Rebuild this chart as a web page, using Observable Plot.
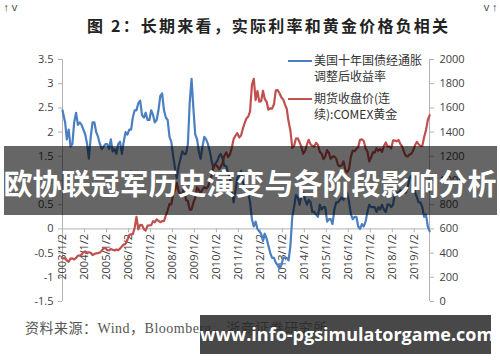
<!DOCTYPE html>
<html>
<head>
<meta charset="utf-8">
<script src="https://cdn.jsdelivr.net/npm/d3@7"></script>
<script src="https://cdn.jsdelivr.net/npm/@observablehq/plot@0.6"></script>
<style>
  html, body { margin: 0; padding: 0; background: #fff; }
  #wrap { position: relative; width: 500px; height: 362px; overflow: hidden; background: #fff; }
  #title { position: absolute; left: 87px; top: 13px; white-space: nowrap;
    font-family: "Noto Sans CJK SC", sans-serif; font-weight: 700; font-size: 16px; letter-spacing: 2.2px; color: #222; }
  #chart { position: absolute; left: 0; top: 0; }
  .leg { position: absolute; font-family: "Noto Sans CJK SC", sans-serif; font-size: 12px; line-height: 16px; color: #333; white-space: nowrap; }
  .legline { position: absolute; height: 2px; width: 24px; }
  #source { position: absolute; left: 25px; top: 317px; white-space: nowrap;
    font-family: "Liberation Serif", "Noto Sans CJK SC", serif; font-size: 14px; color: #555; letter-spacing: 0.5px; }
  #banner { position: absolute; left: 4px; top: 146px; width: 493px; height: 69px; background: rgba(0,0,0,0.6); }
  #bannerText { position: absolute; left: 0; top: 162px; width: 500px; text-align: center; white-space: nowrap;
    font-family: "Noto Sans CJK SC", sans-serif; font-weight: 700; font-size: 29px; line-height: 40px; color: #fff; }
  #wm { position: absolute; left: 200px; top: 315px; width: 291px; height: 39px; background: rgba(40,40,40,0.85); }
  #wmText { position: absolute; left: 200px; top: 315px; width: 291px; height: 39px; line-height: 39px; text-align: center; white-space: nowrap;
    font-family: "Open Sans", "Noto Sans", sans-serif; font-weight: 700; font-size: 18px; color: #fff; }
</style>
</head>
<body>
<div id="wrap">
  <div id="title">图 2：长期来看，实际利率和黄金价格负相关</div>
  <div id="chart"></div>
  <div class="legline" style="left:288px; top:60px; background:#4a7fc1;"></div>
  <div class="leg" style="left:314px; top:52px;">美国十年国债经通胀<br>调整后收益率</div>
  <div class="legline" style="left:288px; top:98px; background:#c0504d;"></div>
  <div class="leg" style="left:314px; top:90px;">期货收盘价(连<br>续):COMEX黄金</div>
  <div id="source">资料来源：Wind，Bloomberg，浙商证券研究所</div>
  <div id="banner"></div>
  <div id="bannerText">欧协联冠军历史演变与各阶段影响分析</div>
  <div id="wm"></div>
  <div id="wmText">www.info-pgsimulatorgame.com</div>
</div>
<script>
// ---- data (monthly readings, Jan 2003 – Sep 2019) ----
const startYear = 2003;
const tipsYield = [
  // 2003
  2.45, 2.2, 1.85, 2.05, 1.7, 1.75, 2.2, 2.4, 2.15, 2.2, 2.15, 2.05,
  // 2004
  1.95, 1.75, 1.45, 1.9, 2.2, 2.2, 2.0, 1.9, 1.75, 1.65, 1.7, 1.75,
  // 2005
  1.75, 1.65, 1.85, 1.6, 1.65, 1.55, 1.75, 1.8, 1.55, 1.8, 2.0, 1.95,
  // 2006
  2.05, 2.05, 2.3, 2.45, 2.45, 2.6, 2.65, 2.35, 2.3, 2.4, 2.25, 2.25,
  // 2007
  2.45, 2.35, 2.2, 2.25, 2.45, 2.75, 2.8, 2.45, 2.3, 2.25, 1.9, 1.8,
  // 2008
  1.5, 1.25, 1.05, 1.3, 1.45, 1.6, 1.55, 1.55, 1.75, 2.6, 3.1, 2.5,
  // 2009
  1.95, 1.85, 1.6, 1.45, 1.7, 1.9, 1.85, 1.75, 1.6, 1.4, 1.25, 1.35,
  // 2010
  1.4, 1.5, 1.55, 1.45, 1.3, 1.3, 1.15, 1.05, 0.8, 0.55, 0.8, 1.05,
  // 2011
  1.1, 1.2, 1.0, 0.85, 0.8, 0.75, 0.55, 0.2, 0.05, 0.15, 0.0, -0.05,
  // 2012
  -0.1, -0.25, -0.1, -0.2, -0.35, -0.5, -0.6, -0.6, -0.7, -0.75, -0.82, -0.75,
  // 2013
  -0.6, -0.6, -0.6, -0.65, -0.35, 0.25, 0.45, 0.7, 0.65, 0.5, 0.7, 0.75,
  // 2014
  0.6, 0.5, 0.6, 0.55, 0.35, 0.35, 0.3, 0.25, 0.5, 0.4, 0.45, 0.45,
  // 2015
  0.15, 0.2, 0.2, 0.1, 0.4, 0.55, 0.55, 0.6, 0.65, 0.6, 0.7, 0.75,
  // 2016
  0.55, 0.3, 0.2, 0.25, 0.25, 0.05, 0.0, 0.1, 0.05, 0.15, 0.35, 0.5,
  // 2017
  0.45, 0.45, 0.45, 0.35, 0.45, 0.4, 0.5, 0.4, 0.35, 0.5, 0.5, 0.45,
  // 2018
  0.5, 0.75, 0.75, 0.75, 0.8, 0.75, 0.75, 0.75, 0.85, 1.05, 1.1, 0.95,
  // 2019
  0.75, 0.65, 0.55, 0.55, 0.45, 0.25, 0.3, 0.05, -0.05
];
const goldPrice = [
  // 2003
  356, 358, 340, 328, 355, 356, 347, 360, 379, 378, 389, 407,
  // 2004
  414, 405, 406, 403, 383, 392, 398, 400, 405, 420, 439, 442,
  // 2005
  424, 423, 434, 428, 422, 430, 424, 437, 456, 470, 476, 510,
  // 2006
  549, 555, 557, 610, 700, 596, 633, 632, 598, 586, 627, 629,
  // 2007
  631, 664, 655, 679, 667, 655, 665, 665, 712, 754, 806, 803,
  // 2008
  889, 922, 980, 909, 888, 890, 940, 839, 830, 760, 760, 816,
  // 2009
  858, 943, 924, 890, 928, 945, 934, 949, 996, 1043, 1127, 1134,
  // 2010
  1118, 1095, 1113, 1148, 1205, 1233, 1193, 1215, 1270, 1343, 1370, 1391,
  // 2011
  1356, 1372, 1424, 1473, 1512, 1529, 1572, 1790, 1840, 1665, 1739, 1652,
  // 2012
  1656, 1742, 1674, 1650, 1585, 1596, 1594, 1630, 1745, 1747, 1721, 1688,
  // 2013
  1670, 1627, 1593, 1487, 1414, 1270, 1286, 1347, 1349, 1316, 1275, 1221,
  // 2014
  1244, 1300, 1336, 1299, 1287, 1279, 1311, 1296, 1238, 1222, 1176, 1200,
  // 2015
  1251, 1227, 1179, 1198, 1199, 1181, 1128, 1117, 1125, 1157, 1086, 1068,
  // 2016
  1097, 1200, 1246, 1242, 1260, 1276, 1337, 1340, 1326, 1266, 1238, 1157,
  // 2017
  1192, 1234, 1231, 1266, 1246, 1260, 1237, 1283, 1314, 1279, 1282, 1265,
  // 2018
  1331, 1330, 1324, 1335, 1303, 1281, 1238, 1202, 1198, 1215, 1220, 1250,
  // 2019
  1291, 1320, 1300, 1285, 1284, 1360, 1414, 1500, 1540
];
const xTickLabels = ["2003/1/2","2004/1/2","2005/1/2","2006/1/2","2007/1/2","2008/1/2","2009/1/2","2010/1/2",
  "2011/1/2","2012/1/2","2013/1/2","2014/1/2","2015/1/2","2016/1/2","2017/1/2","2018/1/2","2019/1/2"];
const leftTicks = [-1.5, -1, -0.5, 0, 0.5, 1, 1.5, 2, 2.5, 3, 3.5];
const rightTicks = [0, 200, 400, 600, 800, 1000, 1200, 1400, 1600, 1800, 2000];
const xStartLabel = "2003/1/2";
const xEndLabel = "2019/9/12";

// ---- helpers ----
const parseDate = s => { const [y, m, d] = s.split("/").map(Number); return new Date(Date.UTC(y, m - 1, d)); };
const monthDate = i => i === 0 ? parseDate(xStartLabel) : new Date(Date.UTC(startYear, i, 15));
const goldToLeft = g => g / 400 - 1.5;   // right axis 0–2000 mapped onto left axis −1.5–3.5
const leftToGold = v => Math.round((v + 1.5) * 400);

const tips = tipsYield.map((v, i) => ({date: monthDate(i), v}));
const gold = goldPrice.map((v, i) => ({date: monthDate(i), v}));
const xTickDates = xTickLabels.map(parseDate);
const xStart = parseDate(xStartLabel), xEnd = parseDate(xEndLabel);

const axisStroke = "#b3b3b3";
const labelColor = "#404040";
const blue = "#4a7fc1";
const red = "#c0504d";

const chart = Plot.plot({
  width: 500,
  height: 362,
  marginLeft: 62,
  marginRight: 71,
  marginTop: 59,
  marginBottom: 61,
  x: {type: "utc", domain: [xStart, xEnd], axis: null},
  y: {domain: [-1.5, 3.5], axis: null},
  style: {fontFamily: "'Open Sans', sans-serif", fontSize: "11px", color: labelColor, background: "transparent"},
  marks: [
    Plot.ruleX([xStart], {stroke: axisStroke}),
    Plot.ruleX([xEnd], {stroke: axisStroke}),
    Plot.axisY(leftTicks, {anchor: "left", tickSize: 4, tickPadding: 5, stroke: axisStroke, color: labelColor,
      tickFormat: d => String(d), fontSize: 11}),
    Plot.axisY(rightTicks.map(goldToLeft), {anchor: "right", tickSize: 4, tickPadding: 6, stroke: axisStroke, color: labelColor,
      tickFormat: v => String(leftToGold(v)), fontSize: 11}),
    Plot.ruleY([0], {stroke: axisStroke}),
    Plot.ruleX(xTickDates, {x: d => d, y1: 0, y2: -0.08, stroke: axisStroke}),
    Plot.text(xTickDates, {x: d => d, y: 0, text: (d, i) => xTickLabels[i], rotate: -90, textAnchor: "end",
      dy: 5, fill: labelColor, fontSize: 11}),
    Plot.line(tips, {x: "date", y: "v", stroke: blue, strokeWidth: 2.2}),
    Plot.line(gold, {x: "date", y: d => goldToLeft(d.v), stroke: red, strokeWidth: 2.2})
  ]
});
document.getElementById("chart").appendChild(chart);
</script>
</body>
</html>
